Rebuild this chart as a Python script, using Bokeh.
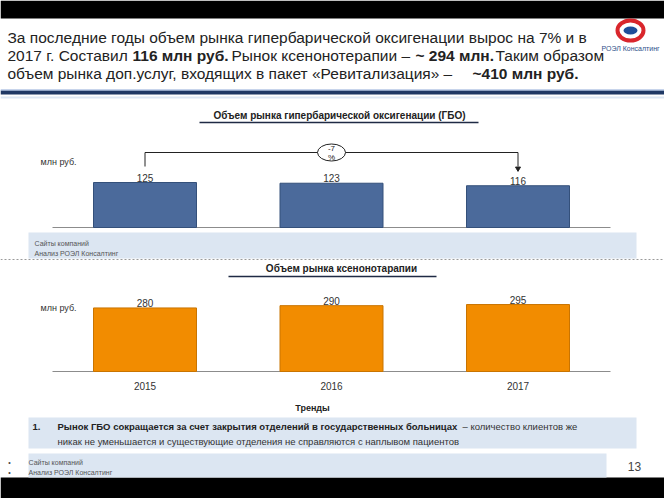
from bokeh.plotting import figure
from bokeh.models import Range1d
from bokeh.core.properties import value
from bokeh.embed import file_html
from bokeh.resources import INLINE

# ---------------- data ----------------
years = [2015, 2016, 2017]
year_labels = ["2015", "2016", "2017"]
hbo_values = [125, 123, 116]
xeno_values = [280, 290, 295]
hbo_change_top = "-7"
hbo_change_bottom = "%"

title_hbo = "Объем рынка гипербарической оксигенации (ГБО)"
title_xeno = "Объем рынка ксенонотарапии"
unit_label = "млн руб."
sources = ["Сайты компаний", "Анализ РОЭЛ Консалтинг"]

# ---------------- layout constants (reference pixel space) ----------------
W, H = 664, 498
OX, OY = 0, 0
FONT = value("Liberation Sans")

p = figure(width=W, height=H, output_backend="svg", toolbar_location=None,
           x_range=Range1d(OX, OX + W), y_range=Range1d(OY + H, OY),
           x_axis_location=None, y_axis_location=None, min_border=0,
           outline_line_color=None, background_fill_color="white")
p.xgrid.visible = False
p.ygrid.visible = False

# year axis shared by both charts: bar centers at px 144.5 and 517.5
c0, c2 = 144.5, 517.5
px_per_year = (c2 - c0) / (years[-1] - years[0])
p.extra_x_ranges = {"yr": Range1d(years[0] - (c0 - OX) / px_per_year,
                                  years[0] + (OX + W - c0) / px_per_year)}

def yrange(base_px, px_per_unit):
    return Range1d((base_px - (OY + H)) / px_per_unit, (base_px - OY) / px_per_unit)

HBO_BASE, HBO_SCALE = 227.0, 0.36
XEN_BASE, XEN_SCALE = 371.0, 0.227
p.extra_y_ranges = {"hbo": yrange(HBO_BASE, HBO_SCALE), "xen": yrange(XEN_BASE, XEN_SCALE)}

def hbo_u(px):
    return (HBO_BASE - px) / HBO_SCALE

def txt(x, y, s, size, bold=False, color="#222222", align="left", baseline="middle", **kw):
    p.text(x=[x], y=[y], text=[s], text_font=FONT, text_font_size=size,
           text_font_style="bold" if bold else "normal", text_color=color,
           text_align=align, text_baseline=baseline, **kw)

# ---------------- background bands ----------------
p.quad(left=[0], right=[664], top=[0], bottom=[18], fill_color="black", line_color=None)
p.quad(left=[0], right=[664], top=[477], bottom=[498], fill_color="black", line_color=None)

# header text
HS = "15.5px"
txt(7, 37, "За последние годы объем рынка гипербарической оксигенации вырос на 7% и в", HS)
txt(7, 55, "2017 г. Составил", HS)
txt(132, 55, "116 млн руб.", HS, bold=True)
txt(231, 55, "Рынок ксенонотерапии –", HS)
txt(415, 55, "~ 294 млн.", HS, bold=True)
txt(495, 55, "Таким образом", HS)
txt(7, 73, "объем рынка доп.услуг, входящих в пакет «Ревитализация» –", HS)
txt(472, 73, "~410  млн руб.", HS, bold=True)

# logo
p.ellipse(x=[630], y=[30], width=26, height=20, fill_color="white",
          line_color="#d9262c", line_width=4)
p.ellipse(x=[630], y=[30], width=14, height=8, fill_color="#1f4e9a", line_color=None)
txt(630, 48, "РОЭЛ Консалтинг", "7px", color="#2e4f8a", align="center")

# header rule
p.segment(x0=[0], x1=[664], y0=[92], y1=[92], line_color="#1f3864", line_width=4)
p.segment(x0=[0], x1=[664], y0=[89.5], y1=[89.5], line_color="#8ea9d6", line_width=1)
p.segment(x0=[0], x1=[664], y0=[97], y1=[97], line_color="#dde7f3", line_width=2)

# ---------------- chart 1 : HBO ----------------
txt(339, 115, title_hbo, "10px", bold=True, align="center")
p.segment(x0=[199], x1=[478], y0=[122], y1=[122], line_color="#1f2a44", line_width=1.5)
txt(40, 161, unit_label, "9px", color="#333333")

p.segment(x0=[52], x1=[610], y0=[HBO_BASE], y1=[HBO_BASE], line_color="#8c8c8c", line_width=1)
p.vbar(x=years, top=hbo_values, bottom=0, width=103 / px_per_year,
       x_range_name="yr", y_range_name="hbo",
       fill_color="#4b6a9b", line_color="#34507a", line_width=1)
p.text(x=years, y=hbo_values, text=[str(v) for v in hbo_values],
       x_range_name="yr", y_range_name="hbo", y_offset=-1,
       text_font=FONT, text_font_size="10px", text_color="#333333",
       text_align="center", text_baseline="bottom")

# change bracket
by = hbo_u(152)
p.line(x=[years[0], years[0], years[-1], years[-1]],
       y=[hbo_u(166), by, by, hbo_u(166)],
       x_range_name="yr", y_range_name="hbo", line_color="#222222", line_width=1)
p.scatter(x=[years[-1]], y=[hbo_u(168)], marker="inverted_triangle", size=5,
          x_range_name="yr", y_range_name="hbo", fill_color="#222222", line_color="#222222")
p.ellipse(x=[years[1]], y=[by], width=28, height=17, width_units="screen", height_units="screen",
          x_range_name="yr", y_range_name="hbo", fill_color="white", line_color="#222222", line_width=1)
p.text(x=[years[1], years[1]], y=[by, by], text=[hbo_change_top, hbo_change_bottom],
       y_offset=[-4, 5], x_range_name="yr", y_range_name="hbo",
       text_font=FONT, text_font_size="8px", text_color="#222222",
       text_align="center", text_baseline="middle")

# source box 1
p.quad(left=[28], right=[636], top=[232], bottom=[258], fill_color="#dce6f2", line_color=None)
txt(34, 243, sources[0], "7px", color="#555555")
txt(34, 253, sources[1], "7px", color="#555555")
p.segment(x0=[0], x1=[664], y0=[259], y1=[259], line_color="#9a9a9a", line_width=1, line_dash="2 2")

# ---------------- chart 2 : xenon ----------------
txt(341, 268, title_xeno, "10px", bold=True, align="center")
p.segment(x0=[228], x1=[436], y0=[276], y1=[276], line_color="#1f2a44", line_width=1.5)
txt(40, 307, unit_label, "9px", color="#333333")

p.segment(x0=[52], x1=[610], y0=[XEN_BASE], y1=[XEN_BASE], line_color="#8c8c8c", line_width=1)
p.vbar(x=years, top=xeno_values, bottom=0, width=103 / px_per_year,
       x_range_name="yr", y_range_name="xen",
       fill_color="#f28c00", line_color="#c97400", line_width=1)
p.text(x=years, y=xeno_values, text=[str(v) for v in xeno_values],
       x_range_name="yr", y_range_name="xen", y_offset=-1,
       text_font=FONT, text_font_size="10px", text_color="#333333",
       text_align="center", text_baseline="bottom")
p.text(x=years, y=[0, 0, 0], text=year_labels, x_range_name="yr", y_range_name="xen",
       y_offset=14, text_font=FONT, text_font_size="10px", text_color="#333333",
       text_align="center", text_baseline="middle")

# ---------------- trends ----------------
txt(312, 407, "Тренды", "9px", bold=True, align="center")
p.quad(left=[28], right=[636], top=[417], bottom=[448], fill_color="#dce6f2", line_color=None)
txt(32, 426, "1.", "9.5px", bold=True)
txt(57, 426, "Рынок ГБО сокращается за счет закрытия отделений в государственных больницах", "9.5px", bold=True)
txt(462, 426, "– количество клиентов же", "9.5px", color="#333333")
txt(57, 441, "никак не уменьшается и существующие отделения не справляются с наплывом пациентов", "9.5px", color="#333333")

# bottom sources
p.quad(left=[28], right=[606], top=[453], bottom=[477], fill_color="#dce6f2", line_color=None)
txt(9, 462, "•", "7px", color="#444444", align="center")
txt(9, 472, "•", "7px", color="#444444", align="center")
txt(28, 462, sources[0], "7px", color="#555555")
txt(28, 472, sources[1], "7px", color="#555555")
txt(634, 466, "13", "12px", color="#444444", align="center")

open("out.html", "w").write(file_html(p, INLINE))
